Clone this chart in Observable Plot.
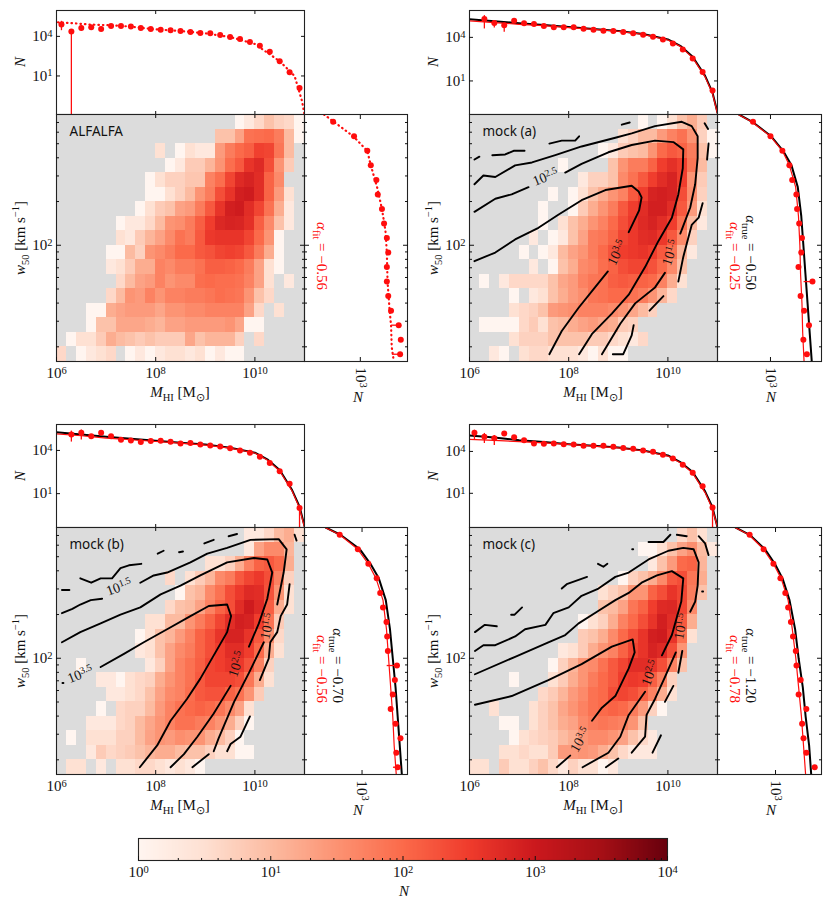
<!DOCTYPE html>
<html>
<head>
<meta charset="utf-8">
<script src="https://cdn.jsdelivr.net/npm/d3@7"></script>
<script src="https://cdn.jsdelivr.net/npm/@observablehq/plot@0.6"></script>
<style>
  body { margin: 0; background: white; }
  #page { position: relative; width: 831px; height: 904px; overflow: hidden; font-family: "Liberation Serif", serif; color: #111; }
  #page svg { position: absolute; overflow: visible; background: transparent; max-width: none; font-family: "Liberation Serif", serif; color: #111; }
  .lab { position: absolute; white-space: nowrap; font-size: 15px; line-height: 1; }
  .lab sub, .lab sup { font-size: 70%; line-height: 0; }
</style>
</head>
<body>
<div id="page"></div>
<script>
// 2D histograms, one row per w50 bin from the top: [first column, counts]
const heatA = [
  [18,[1,2,4,8,5,4,1]],
  [16,[8,8,20,80,90,100,60,10,1]],
  [10,[3,0,1,3,2,2,25,60,100,130,280,250,70,10]],
  [11,[1,2,6,6,12,30,90,150,400,550,200,30,6]],
  [9,[1,3,5,5,7,7,50,90,250,550,700,500,120,40]],
  [9,[1,1,3,5,10,30,60,200,400,800,900,500,120,25,3]],
  [8,[1,3,6,8,20,25,60,150,400,800,900,500,250,80,15,2]],
  [6,[1,2,2,4,10,30,35,60,130,300,600,700,650,450,130,40,8,2]],
  [6,[3,2,6,12,20,40,80,60,150,350,400,400,400,250,100,30,1]],
  [5,[1,1,10,5,30,40,60,100,100,150,180,250,280,250,150,60,15,1]],
  [5,[2,3,6,15,15,50,40,60,60,80,130,130,120,100,60,20,3,1]],
  [6,[4,10,20,25,50,30,40,40,90,100,90,90,80,50,20,3,0,2]],
  [5,[4,10,30,25,50,30,50,50,60,60,70,90,80,70,30,8,4]],
  [3,[1,1,15,20,25,25,25,18,30,30,40,40,50,50,50,50,20,4,0,3]],
  [3,[1,8,8,18,18,18,15,12,20,20,25,25,25,25,30,18,1,1]],
  [1,[1,3,3,6,15,10,8,6,8,6,6,6,18,8,12,12,12,5,0,4]],
  [0,[4,0,1,2,3,4,0,1,2,1,2,3,3,2,3,1,2,1,1]]
]
const heatB = [
  [17,[1,0,1,3,8,15,6]],
  [15,[3,5,10,10,25,50,80,30,5,1]],
  [13,[1,2,6,8,10,30,100,150,120,60,8,1]],
  [9,[1,0,0,0,0,8,30,60,60,120,300,450,300,70,10]],
  [11,[2,5,5,8,40,80,150,300,500,700,300,30,6]],
  [8,[1,0,1,3,8,15,30,50,150,300,700,800,700,200,35,5]],
  [7,[1,0,0,1,6,15,30,60,150,300,500,800,800,500,150,25,3]],
  [7,[1,0,3,8,15,30,50,100,200,350,550,700,500,300,80,10,2]],
  [6,[2,0,1,2,8,20,60,70,120,250,350,500,550,350,150,40,5]],
  [5,[1,0,1,2,10,20,30,60,100,180,300,350,400,300,150,80,12,2]],
  [6,[2,0,1,8,15,40,50,90,120,200,250,250,180,100,40,8]],
  [1,[1,0,2,4,4,4,4,8,18,25,50,70,80,130,150,130,120,100,50,15,3]],
  [4,[1,0,2,3,8,15,25,35,70,80,100,100,80,60,30,12,4]],
  [4,[3,4,5,8,25,30,35,50,50,50,40,30,18,10,5]],
  [1,[1,1,1,1,4,6,3,8,10,15,20,25,18,15,6,5]],
  [4,[3,5,5,5,8,8,8,8,6,6,4,3,2,4]],
  [2,[2,1,0,3,4,4,3,3,3,2,1,3,1,1]]
]
const heatC = [
  [19,[2,2,4,10,15,3]],
  [19,[2,20,40,40,12]],
  [15,[3,3,5,15,50,120,150,100,15]],
  [11,[4,0,3,6,12,40,60,150,250,350,200,50,5]],
  [12,[1,8,12,40,80,200,350,550,500,180,30,3]],
  [11,[4,8,10,20,50,120,200,500,900,550,130,15,3]],
  [9,[3,3,10,10,30,60,120,250,500,800,700,300,80,6]],
  [8,[1,3,8,12,25,50,120,200,400,700,700,400,150,35,4]],
  [8,[2,3,8,20,40,60,120,200,300,500,500,300,100,15,3]],
  [2,[1,0,0,0,0,0,0,2,5,20,50,80,130,250,300,400,350,180,50,5]],
  [4,[2,2,1,3,4,5,15,30,50,80,150,250,250,250,200,70,15,3]],
  [5,[2,2,3,4,8,20,40,50,90,150,180,180,120,80,30,6]],
  [4,[1,0,4,5,5,10,25,50,80,100,120,100,70,40,20,3]],
  [3,[2,2,2,4,5,10,18,30,50,80,80,60,50,30,15,5,1]],
  [1,[1,0,3,3,3,5,5,10,20,30,25,35,30,30,15,10,5,1]],
  [3,[2,6,4,5,6,8,12,15,15,10,8,8,5,3,3,1,1]],
  [1,[3,3,0,2,0,3,3,4,4,3,2,3,2,1]]
]
const heatD = [
  [21,[4,8,3]],
  [17,[1,1,3,8,20,35,10,2]],
  [18,[2,8,25,100,120,12]],
  [15,[1,5,8,15,40,150,200,70,15]],
  [13,[3,5,8,30,30,120,200,400,250,60,8]],
  [13,[8,10,20,70,120,300,550,600,250,40]],
  [11,[1,3,5,15,50,100,200,400,800,500,150,15]],
  [11,[6,8,15,40,100,200,400,800,900,400,80,3]],
  [9,[2,3,6,15,30,50,120,250,400,700,550,200,30]],
  [8,[1,5,12,30,40,80,150,250,500,500,400,200,50,8]],
  [4,[1,0,0,0,3,6,15,30,60,100,150,300,350,300,130,50,5]],
  [7,[4,6,12,25,40,80,100,200,250,200,120,50,15,3]],
  [2,[3,0,0,0,3,5,8,18,30,50,80,100,120,100,60,25,5,1]],
  [3,[1,1,0,3,5,8,15,20,40,60,70,60,50,30,8]],
  [4,[1,3,4,5,6,10,15,30,40,40,30,20,8,4,2]],
  [3,[3,3,4,3,3,6,25,25,30,25,15,8,4,2,2,2]],
  [0,[3,3,0,6,3,3,5,8,4,2,5,3,3,1,2]]
]

// log10 N of the marginal points, 25 mass bins and 17 width bins
const topA = [4.89,4.36,4.64,4.69,4.56,4.79,4.79,4.74,4.64,4.56,4.51,4.46,4.41,4.33,4.25,4.23,4.10,3.95,3.80,3.57,3.29,2.83,2.12,1.28,0.08]
const topB = [null,5.27,4.99,4.83,5.15,4.97,4.92,4.78,4.69,4.69,4.69,4.60,4.53,4.46,4.44,4.37,4.28,4.18,4.05,3.86,3.58,3.17,2.55,1.62,0.35]
const topC = [null,5.11,5.22,4.99,5.22,4.99,4.74,4.69,4.58,4.65,4.67,4.60,4.48,4.51,4.42,4.35,4.28,4.16,4.00,3.84,3.56,3.12,2.55,1.69,0.01]
const topD = [5.33,5.05,4.95,5.29,5.02,4.81,4.57,4.55,4.57,4.52,4.50,4.40,4.40,4.40,4.33,4.24,4.19,4.07,3.98,3.76,3.50,3.05,2.48,1.50,-0.02]
const sideA = [2.61,2.91,3.10,3.15,3.23,3.25,3.31,3.34,3.38,3.40,3.38,3.38,3.40,3.44,3.55,3.58,3.57]
const sideB = [2.75,3.00,3.17,3.27,3.31,3.37,3.38,3.41,3.45,3.44,3.40,3.60,3.43,3.48,3.55,3.47,3.52]
const sideC = [2.68,2.94,3.09,3.21,3.26,3.30,3.35,3.36,3.37,3.50,3.47,3.44,3.41,3.48,3.55,3.49,3.51]
const sideD = [2.63,2.83,2.97,3.07,3.14,3.18,3.22,3.25,3.29,3.30,3.36,3.33,3.44,3.38,3.40,3.44,3.56]

// error bars: [bin, low, high] in log10 N
const topErrA = [[0,4.43,5.14],[1,-1.92,4.5],[2,4.41,4.81],[4,4.38,4.7],[24,-0.22,0.24]]
const topErrB = [[1,4.58,5.5],[2,4.65,5.15],[3,4.35,4.88]]
const topErrC = [[1,4.58,5.34],[2,4.72,5.41],[24,-1.35,0.15]]
const topErrD = [[0,4.81,5.52],[1,4.57,5.29],[2,4.43,5.14],[24,-1.45,0.14]]
const sideErrA = [[2,3.07,3.12],[14,3.45,3.57],[16,3.46,3.59]]
const sideErrB = [[11,3.48,3.64]]
const sideErrC = [[9,3.36,3.55],[16,3.45,3.55]]
const sideErrD = []

// curves in log10 N, on the grids below
const massGrid = [6,6.5,7,7.5,8,8.5,9,9.5,10,10.25,10.5,10.75,10.9,11]
const widthGrid = [2.9,2.85,2.75,2.65,2.55,2.4,2.2,2.0,1.8,1.6,1.4,1.2]
const dotMassA = [6.03,6.35,6.7,7.1,7.5,8,8.5,9,9.5,10,10.5,10.8,10.95,11]
const dotTopA = [5.07,4.99,4.89,4.84,4.74,4.53,4.41,4.23,3.95,3.42,2.12,1.0,-0.9,-1.92]
const dotWidthA = [2.9,2.85,2.75,2.65,2.55,2.4,2.25,2.1,1.95,1.75,1.55,1.45,1.3,1.2]
const dotSideA = [2.48,2.62,2.90,3.10,3.15,3.24,3.31,3.36,3.38,3.39,3.42,3.44,3.45,3.48]
const trueTopB = [5.25,5.11,4.97,4.85,4.72,4.58,4.44,4.23,3.86,3.42,2.66,1.35,0.19,-1.19]
const fitTopB = [5.13,5.02,4.90,4.81,4.67,4.55,4.42,4.21,3.82,3.38,2.59,1.28,0.12,-1.26]
const trueTopC = [5.27,5.11,4.95,4.81,4.67,4.53,4.42,4.18,3.84,3.38,2.64,1.25,0.10,-1.24]
const fitTopC = [5.15,5.02,4.85,4.74,4.62,4.51,4.37,4.16,3.82,3.33,2.57,1.18,0.01,-1.35]
const trueTopD = [5.14,5.00,4.81,4.67,4.52,4.40,4.29,4.07,3.71,3.24,2.52,1.14,-0.02,-1.45]
const fitTopD = [4.86,4.79,4.71,4.62,4.50,4.38,4.26,4.05,3.67,3.19,2.45,1.05,-0.14,-1.45]
const trueSideB = [2.55,2.74,3.01,3.18,3.30,3.39,3.44,3.47,3.50,3.53,3.56,3.59]
const fitSideB = [2.54,2.73,3.00,3.17,3.27,3.36,3.40,3.42,3.43,3.45,3.46,3.48]
const trueSideC = [2.48,2.69,2.97,3.12,3.24,3.34,3.40,3.44,3.48,3.51,3.54,3.57]
const fitSideC = [2.47,2.68,2.94,3.09,3.20,3.30,3.35,3.38,3.41,3.44,3.46,3.49]
const trueSideD = [2.43,2.63,2.85,2.99,3.10,3.20,3.28,3.33,3.39,3.43,3.48,3.51]
const fitSideD = [2.42,2.62,2.83,2.97,3.08,3.18,3.24,3.29,3.33,3.37,3.40,3.43]

// contour pieces as [log10 M, log10 w50]
const contoursB = [
  [[6.10,2.59],[6.20,2.61]],
  [[6.46,2.62],[6.72,2.625],[6.89,2.65],[7.11,2.65]],
  [[7.61,2.70],[7.86,2.72],[8.13,2.72],[8.21,2.75]],
  [[9.07,2.83],[9.23,2.845]],
  [[10.74,2.84],[10.81,2.80]],
  [[10.82,2.70],[10.79,2.59]],
  [[10.70,2.29],[10.62,2.19],[10.48,2.14],[10.38,2.01],[10.31,1.92],[10.21,1.75]],
  [[9.63,1.55],[9.91,1.65]],
  [[9.31,1.45],[9.27,1.38],[9.10,1.25],[8.89,1.25]],
  [[6.10,2.42],[6.28,2.48],[6.52,2.47],[6.92,2.55],[7.26,2.57],[7.73,2.62],[8.26,2.68],[8.94,2.74],[9.27,2.77],[9.74,2.82],[10.28,2.85],[10.48,2.82],[10.60,2.75],[10.60,2.60],[10.55,2.42],[10.45,2.26],[10.25,2.08]],
  [[9.94,1.81],[9.74,1.71],[9.34,1.60],[9.04,1.46],[8.67,1.25]],
  [[6.10,2.23],[6.52,2.32],[6.85,2.35],[7.19,2.40]],
  [[7.93,2.50],[8.26,2.56],[8.80,2.64],[9.27,2.69],[9.74,2.72],[10.11,2.71],[10.31,2.66],[10.30,2.53],[10.21,2.35],[10.08,2.19],[9.81,2.03],[9.54,1.85],[9.21,1.66],[8.87,1.53],[8.47,1.39],[8.21,1.25]],
  [[6.10,1.89],[6.52,1.95],[6.92,2.04],[7.39,2.12],[7.79,2.21],[8.26,2.31],[8.74,2.38],[9.27,2.41],[9.41,2.37],[9.47,2.33],[9.42,2.24],[9.21,2.09]],
  [[8.79,1.82],[8.53,1.71],[8.20,1.57],[7.86,1.41],[7.61,1.25]]
]
const contoursC = [
  [[6.11,2.47],[6.26,2.47]],
  [[6.48,2.55],[6.70,2.52],[6.89,2.55],[7.12,2.55],[7.29,2.62],[7.46,2.64],[7.71,2.65]],
  [[8.04,2.72],[8.16,2.74]],
  [[8.47,2.73],[8.55,2.735]],
  [[8.98,2.79],[9.17,2.815]],
  [[9.47,2.84],[9.64,2.855]],
  [[10.80,2.85],[10.84,2.81]],
  [[10.70,2.51],[10.65,2.37],[10.52,2.29],[10.45,2.18],[10.31,2.11],[10.28,2.00],[10.10,1.85]],
  [[9.07,1.34],[8.74,1.25]],
  [[9.90,1.60],[9.71,1.46],[9.51,1.41],[9.44,1.36]],
  [[6.12,1.83],[6.14,1.83]],
  [[6.89,1.94],[7.36,2.03],[7.76,2.11],[8.23,2.20],[8.70,2.29],[9.07,2.36],[9.44,2.37],[9.52,2.29],[9.44,2.18],[9.17,2.02],[8.90,1.86],[8.63,1.72],[8.30,1.57],[8.03,1.40],[7.68,1.25]],
  [[6.11,2.11],[6.48,2.18],[6.89,2.24],[7.29,2.30],[7.69,2.35],[8.10,2.44],[8.50,2.50],[8.90,2.57],[9.44,2.66],[9.98,2.69],[10.25,2.68],[10.35,2.59],[10.25,2.41],[10.08,2.24],[9.88,2.08]],
  [[9.51,1.81],[9.17,1.62],[8.84,1.46],[8.57,1.34],[8.30,1.25]],
  [[6.11,2.31],[6.32,2.34],[6.48,2.37],[6.69,2.40],[6.92,2.41]],
  [[7.69,2.52],[7.96,2.57],[8.23,2.59],[8.70,2.66],[9.04,2.72],[9.44,2.76],[9.91,2.815],[10.48,2.82],[10.64,2.75],[10.58,2.59],[10.45,2.37]],
  [[10.18,2.11],[9.88,1.90],[9.58,1.70],[9.27,1.45],[9.17,1.36]]
]
const contoursD = [
  [[6.11,2.18],[6.31,2.23],[6.55,2.22]],
  [[6.84,2.30],[6.91,2.30],[7.06,2.35]],
  [[7.86,2.48],[7.96,2.51],[8.37,2.56]],
  [[8.59,2.65],[8.70,2.63],[8.78,2.65]],
  [[9.28,2.75],[9.30,2.75]],
  [[9.61,2.80],[9.91,2.80],[10.05,2.85]],
  [[10.18,2.85],[10.38,2.84]],
  [[10.62,2.84],[10.75,2.79],[10.82,2.71]],
  [[10.69,2.46],[10.71,2.46]],
  [[10.29,2.05],[10.21,1.90]],
  [[10.11,1.81],[9.94,1.70]],
  [[9.86,1.47],[9.69,1.35]],
  [[9.00,1.31],[8.75,1.25]],
  [[6.11,2.05],[6.28,2.09],[6.52,2.09],[6.92,2.15],[7.12,2.20],[7.53,2.23],[7.69,2.31],[8.00,2.35],[8.26,2.43],[8.60,2.48],[8.94,2.56],[9.21,2.59],[9.61,2.68],[10.01,2.74],[10.31,2.76],[10.52,2.75],[10.62,2.66],[10.60,2.50],[10.55,2.39],[10.45,2.32]],
  [[10.16,2.04],[9.94,1.87],[9.74,1.72],[9.57,1.61],[9.54,1.46],[9.27,1.35]],
  [[6.11,1.89],[6.92,2.01],[7.59,2.11],[7.93,2.16],[8.20,2.24],[8.57,2.32],[8.94,2.40],[9.21,2.45],[9.47,2.52],[9.78,2.57],[10.08,2.60],[10.31,2.55],[10.27,2.39],[10.08,2.16],[9.88,2.02]],
  [[9.54,1.77],[9.21,1.61],[9.04,1.46],[8.80,1.35],[8.28,1.25]],
  [[6.11,1.68],[6.85,1.74],[7.59,1.85],[8.26,1.96],[8.87,2.08],[9.29,2.13],[9.33,2.04],[9.21,1.93],[8.94,1.74],[8.67,1.66],[8.47,1.57]],
  [[8.03,1.33],[7.76,1.25]]
]
// contour labels: log10 M, log10 w50, text, rotation
const levelsB = [[7.53,2.47,'10^2.5',-22],[8.97,1.95,'10^3.5',-65],[10.05,1.95,'10^1.5',-72]]
const levelsC = [[7.26,2.49,'10^1.5',-20],[6.48,1.89,'10^3.5',-22],[9.63,1.96,'10^2.5',-72],[10.25,2.22,'10^1.5',-78]]
const levelsD = [[8.23,1.44,'10^3.5',-60],[9.64,1.90,'10^2.5',-70],[10.26,2.22,'10^1.5',-80]]

const redsRange = ['#fff5f0','#fee0d2','#fcbba1','#fc9272','#fb6a4a','#ef3b2c','#cb181d','#a50f15','#67000d']
const colorScale = {type: 'log', domain: [1, 1e4], interpolate: d3.piecewise(d3.interpolateRgb, redsRange)}
const massMajor = [1e6, 1e8, 1e10]
const widthMajor = [100]
const widthMinor = [20,30,40,50,60,70,80,90,200,300,400,500,600,700]
const countMajor = [10, 1e4]
const sideMajor = [1e3]

const page = document.getElementById('page')
const power = d => `10^${Math.round(Math.log10(d))}`
const RED = '#ff0d0d'

// 10^x strings in svg text become a real superscript
function superscripts(svg) {
  svg.querySelectorAll('text').forEach(t => {
    const m = t.textContent.match(/^10\^(.+)$/)
    if (!m) return
    t.textContent = '10'
    const s = document.createElementNS('http://www.w3.org/2000/svg', 'tspan')
    s.setAttribute('dy', '-0.42em')
    s.setAttribute('font-size', '0.7em')
    s.textContent = m[1]
    t.appendChild(s)
  })
}

function place(opts, left, top, marks) {
  const svg = Plot.plot({margin: 0, ...opts, marks})
  svg.style.left = left + 'px'
  svg.style.top = top + 'px'
  superscripts(svg)
  page.appendChild(svg)
}

function label(x, y, html, rotate = 0, color = '#111') {
  const el = document.createElement('div')
  el.className = 'lab'
  el.style.left = x + 'px'
  el.style.top = y + 'px'
  el.style.color = color
  el.style.transform = `translate(-50%,-50%) rotate(${rotate}deg)`
  el.innerHTML = html
  page.appendChild(el)
}

// rotated 90deg, the end of the text sits on (x, y)
function alpha(x, y, html, color) {
  const el = document.createElement('div')
  el.className = 'lab'
  el.style.left = x + 'px'
  el.style.top = y + 'px'
  el.style.color = color
  el.style.transformOrigin = '0 0'
  el.style.transform = 'rotate(90deg) translate(-100%,-50%)'
  el.innerHTML = html
  page.appendChild(el)
}

// ticks point inwards; no format means ticks only
const xTicks = (anchor, ticks, size, fmt, extra = {}) => Plot.axisX({anchor, ticks, tickSize: -size, tickPadding: size + 6, label: null, fontSize: 15, ...(fmt ? {tickFormat: fmt} : {fill: 'none'}), ...extra})
const yTicks = (anchor, ticks, size, fmt) => Plot.axisY({anchor, ticks, tickSize: -size, tickPadding: size + 4, label: null, fontSize: 15, ...(fmt ? {tickFormat: fmt} : {fill: 'none'})})

function heatCells(rows) {
  const cells = []
  rows.forEach(([start, counts], j) => counts.forEach((n, k) => {
    if (n > 0) cells.push({
      x1: 10 ** (6 + 0.2 * (start + k)), x2: 10 ** (6 + 0.2 * (start + k + 1)),
      y1: 10 ** (2.9 - 0.1 * j), y2: 10 ** (2.9 - 0.1 * (j + 1)), n
    })
  }))
  return cells
}

function drawPanel(p) {
  const {x, y, name} = p
  // top marginal
  const topPts = p.top.map((v, i) => ({m: 10 ** (6.1 + 0.2 * i), v})).filter(d => d.v !== null).map(d => ({m: d.m, n: 10 ** d.v}))
  const topErr = p.topErr.map(([i, a, b]) => ({m: 10 ** (6.1 + 0.2 * i), a: 10 ** a, b: 10 ** b}))
  const curveTop = (arr, grid = massGrid) => grid.map((m, i) => ({m: 10 ** m, n: 10 ** arr[i]}))
  const topLines = p.dotted
    ? [Plot.line(curveTop(dotTopA, dotMassA), {x: 'm', y: 'n', stroke: RED, strokeWidth: 2.2, strokeDasharray: '0.5,4', strokeLinecap: 'round', clip: true})]
    : [Plot.line(curveTop(p.trueTop), {x: 'm', y: 'n', stroke: 'black', strokeWidth: 2, clip: true}),
       Plot.line(curveTop(p.fitTop), {x: 'm', y: 'n', stroke: RED, strokeWidth: 1.2, clip: true})]
  place({
    width: 248, height: y.topH,
    x: {type: 'log', domain: [1e6, 1e11], axis: null},
    y: {type: 'log', domain: [10 ** p.topDomain[0], 10 ** p.topDomain[1]], axis: null}
  }, x.main, y.top, [
    ...topLines,
    Plot.ruleX(topErr, {x: 'm', y1: 'a', y2: 'b', stroke: RED, strokeWidth: 1.3, clip: true}),
    Plot.dot(topPts, {x: 'm', y: 'n', r: 3, fill: RED, clip: true}),
    Plot.frame({stroke: '#222', strokeWidth: 1.1}),
    xTicks('top', [1e8, 1e10], 3, null),
    xTicks('bottom', [1e8, 1e10], 3, null),
    yTicks('left', countMajor, 4, power),
    yTicks('right', countMajor, 4, null)
  ])

  // main 2D histogram
  place({
    width: 248, height: y.mainH,
    x: {type: 'log', domain: [1e6, 1e11], axis: null},
    y: {type: 'log', domain: [10 ** 1.2, 10 ** 2.9], axis: null},
    color: colorScale
  }, x.main, y.main, [
    Plot.frame({fill: '#dcdcdc'}),
    Plot.rect(heatCells(p.heat), {x1: 'x1', x2: 'x2', y1: 'y1', y2: 'y2', fill: 'n', shapeRendering: 'crispEdges'}),
    ...(p.contours || []).map(c => Plot.line(c, {x: d => 10 ** d[0], y: d => 10 ** d[1], stroke: 'black', strokeWidth: 1.9, strokeLinejoin: 'round', clip: true})),
    ...(p.levels || []).map(l => Plot.text([l], {x: d => 10 ** d[0], y: d => 10 ** d[1], text: d => d[2], rotate: l[3], fontSize: 14, fill: '#111'})),
    Plot.text([name], {frameAnchor: 'top-left', dx: 13, dy: 12, fontFamily: 'Noto Sans', fontSize: 13.5, fill: '#111'}),
    Plot.frame({stroke: '#222', strokeWidth: 1.1}),
    xTicks('bottom', massMajor, 4, power),
    xTicks('top', [1e8, 1e10], 3, null),
    yTicks('left', widthMajor, 5, power),
    yTicks('left', widthMinor, 3, null),
    yTicks('right', widthMajor, 5, null),
    yTicks('right', widthMinor, 3, null)
  ])

  // side marginal
  const sidePts = p.side.map((v, j) => ({w: 10 ** (2.85 - 0.1 * j), n: 10 ** v}))
  const sideErr = p.sideErr.map(([j, a, b]) => ({w: 10 ** (2.85 - 0.1 * j), a: 10 ** a, b: 10 ** b}))
  const curveSide = (arr, grid = widthGrid) => grid.map((w, i) => ({w: 10 ** w, n: 10 ** arr[i]}))
  const sideLines = p.dotted
    ? [Plot.line(curveSide(dotSideA, dotWidthA), {x: 'n', y: 'w', stroke: RED, strokeWidth: 2.2, strokeDasharray: '0.5,4', strokeLinecap: 'round', clip: true})]
    : [Plot.line(curveSide(p.trueSide), {x: 'n', y: 'w', stroke: 'black', strokeWidth: 2, clip: true}),
       Plot.line(curveSide(p.fitSide), {x: 'n', y: 'w', stroke: RED, strokeWidth: 1.2, clip: true})]
  place({
    width: x.sideW, height: y.mainH,
    x: {type: 'log', domain: [10 ** p.sideDomain[0], 10 ** p.sideDomain[1]], axis: null},
    y: {type: 'log', domain: [10 ** 1.2, 10 ** 2.9], axis: null}
  }, x.main + 248, y.main, [
    ...sideLines,
    Plot.ruleY(sideErr, {y: 'w', x1: 'a', x2: 'b', stroke: RED, strokeWidth: 1.3, clip: true}),
    Plot.dot(sidePts, {x: 'n', y: 'w', r: 3, fill: RED, clip: true}),
    Plot.frame({stroke: '#222', strokeWidth: 1.1}),
    xTicks('bottom', sideMajor, 4, power, {tickRotate: 90, tickPadding: 10}),
    xTicks('top', sideMajor, 4, null),
    yTicks('left', widthMajor, 5, null),
    yTicks('left', widthMinor, 3, null),
    yTicks('right', widthMajor, 5, null),
    yTicks('right', widthMinor, 3, null)
  ])

  // math labels
  const mass = '<i>M</i><sub>HI</sub> [M<sub>⊙</sub>]'
  const width = '<i>w</i><sub>50</sub> [km s<sup>−1</sup>]'
  label(x.main + 124, y.main + 278, mass)
  label(x.main - 36, y.main + 124, width, -90)
  label(x.main - 36, y.top + 52, '<i>N</i>', -90)
  label(x.main + 248 + p.sideTick, y.main + 283, '<i>N</i>')
  if (p.alphaTrue) alpha(x.main + 281, y.main + 176, `<i>α</i><sub>true</sub> = ${p.alphaTrue}`, '#111')
  alpha(x.main + 265, y.main + 176, `<i>α</i><sub>fit</sub> = ${p.alphaFit}`, RED)
}

drawPanel({
  name: 'ALFALFA', heat: heatA, top: topA, side: sideA, topErr: topErrA, sideErr: sideErrA, dotted: true,
  x: {main: 56, sideW: 103}, y: {top: 10, topH: 104, main: 114, mainH: 247},
  topDomain: [-1.92, 5.96], sideDomain: [2.2, 3.676], sideTick: 54, alphaFit: '−0.56'
})
drawPanel({
  name: 'mock (a)', heat: heatB, top: topB, side: sideB, topErr: topErrB, sideErr: sideErrB,
  trueTop: trueTopB, fitTop: fitTopB, trueSide: trueSideB, fitSide: fitSideB,
  contours: contoursB, levels: levelsB,
  x: {main: 469, sideW: 104}, y: {top: 10, topH: 104, main: 114, mainH: 247},
  topDomain: [-1.31, 5.85], sideDomain: [2.243, 3.729], sideTick: 54, alphaTrue: '−0.50', alphaFit: '−0.25'
})
drawPanel({
  name: 'mock (b)', heat: heatC, top: topC, side: sideC, topErr: topErrC, sideErr: sideErrC,
  trueTop: trueTopC, fitTop: fitTopC, trueSide: trueSideC, fitSide: fitSideC,
  contours: contoursC, levels: levelsC,
  x: {main: 56, sideW: 103}, y: {top: 424, topH: 103, main: 527, mainH: 247},
  topDomain: [-1.35, 5.80], sideDomain: [2.176, 3.651], sideTick: 54, alphaTrue: '−0.70', alphaFit: '−0.56'
})
drawPanel({
  name: 'mock (c)', heat: heatD, top: topD, side: sideD, topErr: topErrD, sideErr: sideErrD,
  trueTop: trueTopD, fitTop: fitTopD, trueSide: trueSideD, fitSide: fitSideD,
  contours: contoursD, levels: levelsD,
  x: {main: 469, sideW: 104}, y: {top: 424, topH: 103, main: 527, mainH: 247},
  topDomain: [-1.45, 5.93], sideDomain: [2.171, 3.657], sideTick: 54, alphaTrue: '−1.20', alphaFit: '−0.78'
})

// colour bar
const barMinor = [1, 10, 100, 1000].flatMap(d => [2,3,4,5,6,7,8,9].map(k => k * d))
const barSteps = d3.range(0, 400).map(i => ({a: 10 ** (i / 100), b: 10 ** ((i + 1) / 100)}))
place({
  width: 529, height: 22,
  x: {type: 'log', domain: [1, 1e4], axis: null},
  color: colorScale
}, 138, 838, [
  Plot.rectX(barSteps, {x1: 'a', x2: 'b', fill: d => d.a, shapeRendering: 'crispEdges'}),
  Plot.frame({stroke: '#222', strokeWidth: 1.1}),
  xTicks('bottom', [1, 10, 100, 1e3, 1e4], 4, power),
  xTicks('bottom', barMinor, 2, null)
])
label(404, 891, '<i>N</i>')
</script>
</body>
</html>
